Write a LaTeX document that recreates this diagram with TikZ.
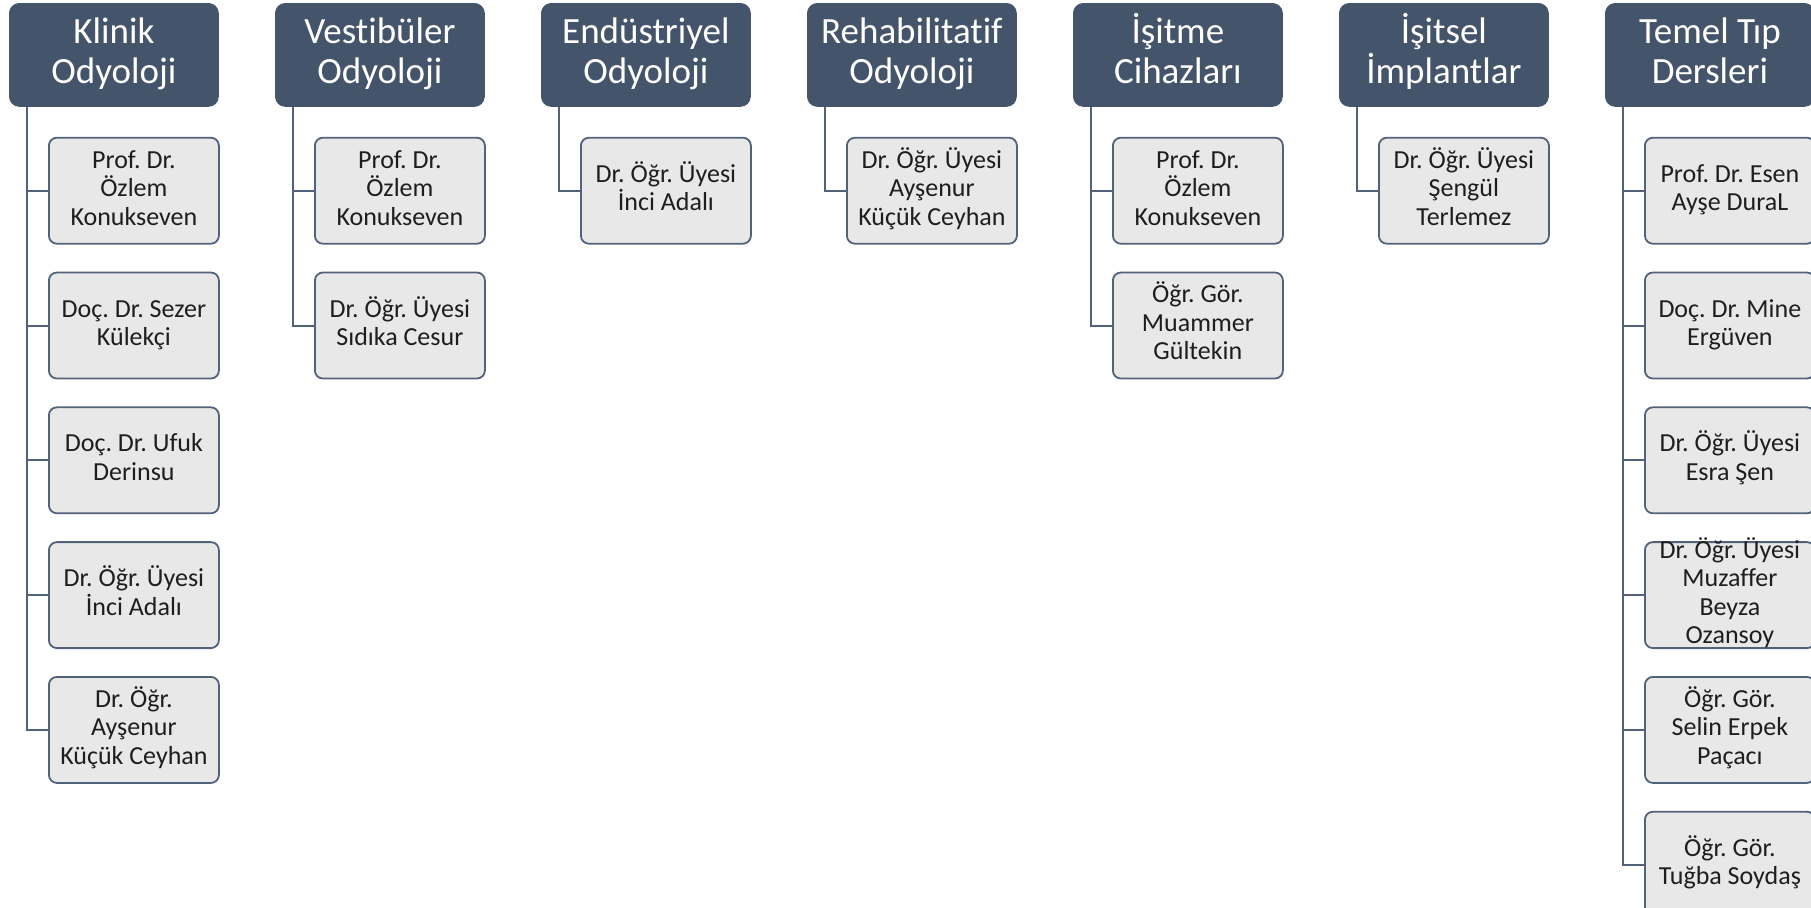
\documentclass[tikz,border=0pt]{standalone}
\usepackage{fontspec}
\setmainfont[Ligatures=NoCommon]{Carlito}
\frenchspacing
\usetikzlibrary{positioning}
\definecolor{Slate}{HTML}{44546A}
\definecolor{SlateLine}{HTML}{52627A}
\definecolor{LightGrey}{HTML}{E8E8E8}
\definecolor{DarkText}{HTML}{1E1E1E}
\tikzset{
  head/.style={rounded corners=5pt, fill=Slate, draw=Slate, text=white, anchor=north west,
    text width=102.5pt, minimum height=51.5pt, inner sep=1pt, align=flush center,
    font=\fontsize{18.5}{20}\selectfont,
    execute at begin node={\lineskiplimit=-20pt\rule{0pt}{16.5pt}},
    execute at end node=\rule[-8pt]{0pt}{8pt}},
  person/.style={rounded corners=4pt, fill=LightGrey, draw=SlateLine, line width=0.9pt, text=DarkText,
    text width=83pt, minimum height=53pt, inner sep=1pt, align=flush center,
    font=\fontsize{13}{14.25}\selectfont,
    execute at begin node={\lineskiplimit=-20pt\rule{0pt}{12pt}},
    execute at end node=\rule[-6.2pt]{0pt}{6.2pt}},
  conn/.style={draw=SlateLine, line width=1pt}
}
\begin{document}
\begin{tikzpicture}[x=0.5pt,y=-0.5pt, node distance=13.5pt]
\useasboundingbox (0,0) rectangle (1811,907);
% headers
\node[head] (klinik) at (9,3) {Klinik\\Odyoloji};
\node[head] (vest) at (275,3) {Vestibüler\\Odyoloji};
\node[head] (endus) at (541,3) {Endüstriyel\\Odyoloji};
\node[head] (rehab) at (807,3) {Rehabilitatif\\Odyoloji};
\node[head] (cihaz) at (1073,3) {İşitme\\Cihazları};
\node[head] (impl) at (1339,3) {İşitsel\\İmplantlar};
\node[head] (temel) at (1605,3) {Temel Tıp\\Dersleri};

% Klinik Odyoloji
\node[person, below right=15pt and 19.5pt of klinik.south west] (k1) {Prof. Dr.\\Özlem\\Konukseven};
\node[person, below=of k1] (k2) {Doç. Dr. Sezer\\Külekçi};
\node[person, below=of k2] (k3) {Doç. Dr. Ufuk\\Derinsu};
\node[person, below=of k3] (k4) {Dr. Öğr. Üyesi\\İnci Adalı};
\node[person, below=of k4] (k5) {Dr. Öğr.\\Ayşenur\\Küçük Ceyhan};

% Vestibuler Odyoloji
\node[person, below right=15pt and 19.5pt of vest.south west] (v1) {Prof. Dr.\\Özlem\\Konukseven};
\node[person, below=of v1] (v2) {Dr. Öğr. Üyesi\\Sıdıka Cesur};

% Endustriyel / Rehabilitatif
\node[person, below right=15pt and 19.5pt of endus.south west] (e1) {Dr. Öğr. Üyesi\\İnci Adalı};
\node[person, below right=15pt and 19.5pt of rehab.south west] (r1) {Dr. Öğr. Üyesi\\Ayşenur\\Küçük Ceyhan};

% Isitme Cihazlari
\node[person, below right=15pt and 19.5pt of cihaz.south west] (c1) {Prof. Dr.\\Özlem\\Konukseven};
\node[person, below=of c1] (c2) {Öğr. Gör.\\Muammer\\Gültekin};

% Isitsel Implantlar
\node[person, below right=15pt and 19.5pt of impl.south west] (i1) {Dr. Öğr. Üyesi\\Şengül\\Terlemez};

% Temel Tip Dersleri
\node[person, below right=15pt and 19.5pt of temel.south west] (t1) {Prof. Dr. Esen\\Ayşe DuraL};
\node[person, below=of t1] (t2) {Doç. Dr. Mine\\Ergüven};
\node[person, below=of t2] (t3) {Dr. Öğr. Üyesi\\Esra Şen};
\node[person, below=of t3, inner ysep=-4pt] (t4) {Dr. Öğr. Üyesi\\Muzaffer\\Beyza\\Ozansoy};
\node[person, below=of t4] (t5) {Öğr. Gör.\\Selin Erpek\\Paçacı};
\node[person, below=of t5] (t6) {Öğr. Gör.\\Tuğba Soydaş};

% connectors
\draw[conn] ([xshift=9pt]klinik.south west) |- (k1.west) ([xshift=9pt]klinik.south west) |- (k2.west)
  ([xshift=9pt]klinik.south west) |- (k3.west) ([xshift=9pt]klinik.south west) |- (k4.west)
  ([xshift=9pt]klinik.south west) |- (k5.west);
\draw[conn] ([xshift=9pt]vest.south west) |- (v1.west) ([xshift=9pt]vest.south west) |- (v2.west);
\draw[conn] ([xshift=9pt]endus.south west) |- (e1.west);
\draw[conn] ([xshift=9pt]rehab.south west) |- (r1.west);
\draw[conn] ([xshift=9pt]cihaz.south west) |- (c1.west) ([xshift=9pt]cihaz.south west) |- (c2.west);
\draw[conn] ([xshift=9pt]impl.south west) |- (i1.west);
\draw[conn] ([xshift=9pt]temel.south west) |- (t1.west) ([xshift=9pt]temel.south west) |- (t2.west)
  ([xshift=9pt]temel.south west) |- (t3.west) ([xshift=9pt]temel.south west) |- (t4.west)
  ([xshift=9pt]temel.south west) |- (t5.west) ([xshift=9pt]temel.south west) |- (t6.west);
\end{tikzpicture}
\end{document}
